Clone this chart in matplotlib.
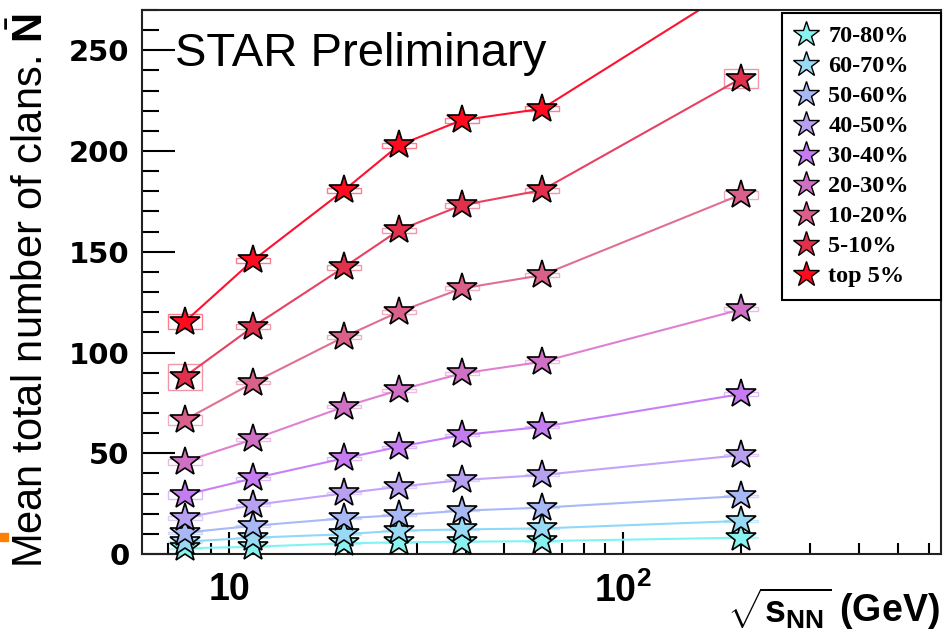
import matplotlib
matplotlib.use("Agg")
import matplotlib.pyplot as plt
from matplotlib.lines import Line2D
from matplotlib.patches import Rectangle
from matplotlib.ticker import FixedLocator, NullFormatter

plt.rcParams['font.family'] = ['Liberation Sans', 'DejaVu Sans']
plt.rcParams['mathtext.fontset'] = 'custom'
plt.rcParams['mathtext.rm'] = 'Liberation Sans'
plt.rcParams['mathtext.bf'] = 'Liberation Sans:bold'
plt.rcParams['mathtext.it'] = 'Liberation Sans:italic'

# Collision energies (GeV)
energies = [7.7, 11.5, 19.6, 27, 39, 62.4, 200]

# Centrality classes, listed as in the legend (most peripheral first)
centralities = ['70-80%', '60-70%', '50-60%', '40-50%', '30-40%',
                '20-30%', '10-20%', '5-10%', 'top 5%']

# Mean total number of clans per centrality class
n_70_80 = [2.8, 3.6, 5.3, 5.8, 6.1, 6.4, 8.1]
n_60_70 = [6.1, 8.1, 9.8, 11.6, 12.2, 12.7, 16.4]
n_50_60 = [10.6, 14.0, 17.7, 19.3, 21.5, 23.0, 28.8]
n_40_50 = [18.0, 24.3, 30.1, 33.4, 36.7, 39.2, 49.1]
n_30_40 = [29.3, 37.5, 47.5, 53.2, 59.0, 63.1, 79.4]
n_20_30 = [45.8, 56.9, 73.1, 81.3, 89.6, 95.4, 121.4]
n_10_20 = [66.5, 85.0, 107.8, 120.2, 131.8, 138.4, 178.4]
n_5_10 = [88.0, 112.8, 142.4, 160.7, 173.1, 180.6, 236.0]
n_top5 = [115.2, 145.8, 180.6, 202.9, 215.3, 221.0, 283.0]

# Systematic uncertainties (half height of the boxes)
sys_70_80 = [0.3, 0.3, 0.3, 0.3, 0.3, 0.3, 0.3]
sys_60_70 = [0.4, 0.3, 0.3, 0.3, 0.3, 0.3, 0.3]
sys_50_60 = [0.5, 0.4, 0.4, 0.4, 0.4, 0.4, 0.4]
sys_40_50 = [1.0, 0.5, 0.5, 0.5, 0.5, 0.5, 0.5]
sys_30_40 = [1.8, 0.6, 0.6, 0.6, 0.6, 0.6, 0.8]
sys_20_30 = [1.5, 0.8, 0.8, 0.8, 0.8, 0.8, 1.0]
sys_10_20 = [2.5, 0.8, 1.0, 1.0, 1.0, 1.0, 2.0]
sys_5_10 = [6.5, 1.2, 1.2, 1.2, 1.2, 1.2, 4.7]
sys_top5 = [3.7, 1.2, 1.2, 1.2, 1.2, 1.2, 1.2]

values = [n_70_80, n_60_70, n_50_60, n_40_50, n_30_40,
          n_20_30, n_10_20, n_5_10, n_top5]
systematics = [sys_70_80, sys_60_70, sys_50_60, sys_40_50, sys_30_40,
               sys_20_30, sys_10_20, sys_5_10, sys_top5]

marker_colors = ['#88F2EE', '#98DAF4', '#A8B8F4', '#B8A0F0', '#C47CF0',
                 '#D070C4', '#D8608A', '#E0304C', '#FF0A1E']
line_colors = ['#80F4F4', '#90D8F8', '#A8B8F8', '#C4A4F8', '#C880F8',
               '#E080D0', '#E07090', '#E84060', '#FF1030']

box_factor = 1.105  # horizontal half-width of the systematic boxes (log scale)

fig = plt.figure(figsize=(9.47, 6.34), dpi=100)
ax = fig.add_axes([142 / 947, 1 - 554 / 634, (941 - 142) / 947, (554 - 10) / 634])
ax.set_xscale('log')
ax.set_xlim(6, 645)
ax.set_ylim(0, 270)

for vals, errs, mc, lc in zip(values, systematics, marker_colors, line_colors):
    ax.plot(energies, vals, '-', color=lc, lw=1.5, zorder=2)
    for e, v, s in zip(energies, vals, errs):
        ax.add_patch(Rectangle((e / box_factor, v - s), e * box_factor - e / box_factor,
                               2 * s, fill=False, edgecolor=lc, alpha=0.55,
                               lw=1.0, zorder=1))
    ax.plot(energies, vals, linestyle='none', marker='*', markersize=22,
            markerfacecolor=mc, markeredgecolor='black', markeredgewidth=1.2,
            zorder=3, clip_on=False)

# axes styling
for sp in ax.spines.values():
    sp.set_linewidth(1.5)
    sp.set_color('#222222')

ax.yaxis.set_major_locator(FixedLocator([0, 50, 100, 150, 200, 250]))
ax.yaxis.set_minor_locator(FixedLocator(list(range(0, 271, 10))))
ax.set_yticklabels(['0', '50', '100', '150', '200', '250'])
ax.tick_params(axis='y', which='major', direction='in', length=24, width=1.5,
               pad=9, right=False)
ax.tick_params(axis='y', which='minor', direction='in', length=12, width=1.5,
               right=False)
for lab in ax.get_yticklabels():
    lab.set_fontfamily('DejaVu Sans')
    lab.set_fontweight('bold')
    lab.set_fontsize(21)

ax.xaxis.set_major_locator(FixedLocator([10, 100]))
ax.xaxis.set_minor_locator(FixedLocator([7, 8, 9, 20, 30, 40, 50, 60, 70, 80, 90,
                                         200, 300, 400, 500, 600]))
ax.xaxis.set_minor_formatter(NullFormatter())
ax.set_xticklabels(['10', r'$\mathbf{10^{2}}$'])
ax.tick_params(axis='x', which='major', direction='in', length=16, width=1.5,
               pad=13, labelsize=27, top=False)
ax.tick_params(axis='x', which='minor', direction='in', length=8, width=1.5,
               top=False)
for lab in ax.get_xticklabels():
    lab.set_fontweight('bold')

# texts
fig.text(175 / 947, 1 - 66 / 634, 'STAR Preliminary', fontsize=34,
         ha='left', va='baseline')
fig.text(32 / 947, 1 - 291 / 634, r'Mean total number of clans. $\bar{\mathbf{N}}$',
         fontsize=30, rotation=90, ha='center', va='center')
fig.text(940 / 947, 1 - 609 / 634, r'$\sqrt{\mathbf{s}_{\mathbf{NN}}}$ (GeV)',
         fontsize=27, fontweight='bold', ha='right', va='center')

# legend
handles = [Line2D([], [], linestyle='none', marker='*', markersize=19,
                  markerfacecolor=mc, markeredgecolor='black', markeredgewidth=1.0)
           for mc in marker_colors]
leg = fig.legend(handles, centralities, loc='upper left', mode='expand',
                 bbox_to_anchor=(782 / 947, 1 - 293 / 634, 159 / 947, 280 / 634),
                 bbox_transform=fig.transFigure, frameon=True, fancybox=False,
                 edgecolor='black', framealpha=1, borderaxespad=0,
                 handlelength=1.0, handletextpad=0.4, labelspacing=0.33,
                 borderpad=0.5,
                 prop={'family': 'Liberation Serif', 'weight': 'bold', 'size': 17.5})
leg.get_frame().set_linewidth(1.5)

# small orange mark at the left edge
fig.add_artist(Rectangle((0, 1 - 541 / 634), 8 / 947, 8 / 634, color='#FF8000',
                         transform=fig.transFigure))

fig.savefig('out.png', dpi=100)
